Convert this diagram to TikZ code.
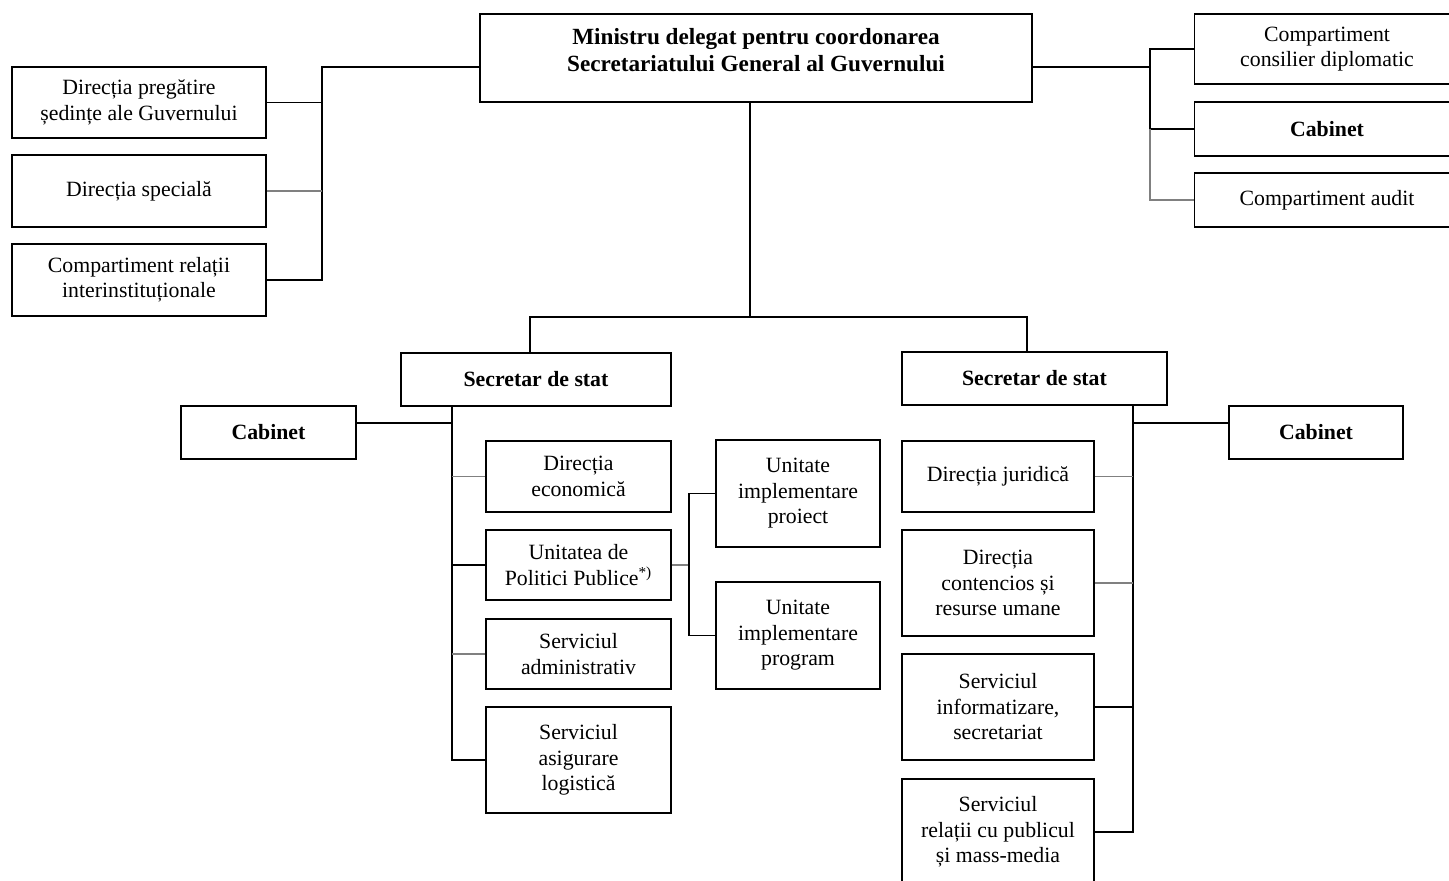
\documentclass[tikz,border=0pt]{standalone}
\usepackage{fontspec}
\setmainfont{Liberation Serif}
\usetikzlibrary{calc}

\begin{document}
\begin{tikzpicture}[
        x=0.02cm, y=-0.02cm,
        unit/.style={draw, line width=1pt, align=center, inner sep=1pt,
            font=\fontsize{12.4}{14.5}\selectfont},
        head/.style={unit, font=\fontsize{12.4}{14.5}\selectfont\bfseries},
        size/.style 2 args={minimum width=#1*0.02cm, minimum height=#2*0.02cm},
        link/.style={line width=1pt},
        faint/.style={line width=0.6pt, gray},
    ]
    \path[use as bounding box, clip] (0,0) rectangle (1449,880);

    % minister
    \node[head, size={552}{88}, text depth=9pt, font=\fontsize{13.2}{15.3}\selectfont\bfseries]
        (min) at (756,58) {Ministru delegat pentru coordonarea\\Secretariatului General al Guvernului};

    % left of minister
    \node[unit, size={254}{71}] (dpg) at (139,102.5) {Direcția pregătire\\ședințe ale Guvernului};
    \node[unit, size={254}{72}] (dsp) at (139,191) {Direcția specială};
    \node[unit, size={254}{72}] (cri) at (139,280) {Compartiment relații\\interinstituționale};

    % right of minister
    \node[unit, size={265}{70}] (ccd) at (1327,49) {Compartiment\\consilier diplomatic};
    \node[head, size={265}{54}] (cabm) at (1327,129) {Cabinet};
    \node[unit, size={265}{54}] (cau) at (1327,200) {Compartiment audit};

    % secretaries of state
    \node[head, size={270}{53}] (ssl) at (536,379.5) {Secretar de stat};
    \node[head, size={265}{53}] (ssr) at (1034.5,378.5) {Secretar de stat};

    % left secretary
    \node[head, size={175}{53}] (cabl) at (268.5,432.5) {Cabinet};
    \node[unit, size={185}{71}] (dec) at (578.5,476.5) {Direcția\\economică};
    \node[unit, size={185}{70}] (upp) at (578.5,565) {Unitatea de\\Politici Publice\textsuperscript{*)}};
    \node[unit, size={185}{70}] (sad) at (578.5,654) {Serviciul\\administrativ};
    \node[unit, size={185}{106}] (sal) at (578.5,760) {Serviciul\\asigurare\\logistică};
    \node[unit, size={164}{107}] (uip) at (798,493.5) {Unitate\\implementare\\proiect};
    \node[unit, size={164}{107}] (uipg) at (798,635.5) {Unitate\\implementare\\program};

    % right secretary
    \node[head, size={174}{53}] (cabr) at (1316,432.5) {Cabinet};
    \node[unit, size={192}{71}] (dju) at (998,476.5) {Direcția juridică};
    \node[unit, size={192}{106}] (dcr) at (998,583) {Direcția\\contencios și\\resurse umane};
    \node[unit, size={192}{106}] (sis) at (998,707) {Serviciul\\informatizare,\\secretariat};
    \node[unit, size={192}{106}] (srp) at (998,832) {Serviciul\\relații cu publicul\\și mass-media};

    % links of the minister
    \coordinate (lbus) at (322,67);
    \coordinate (rbus) at (1150,67);
    \coordinate (split) at (750,317);
    \draw[link] ($(min.west)+(0,9)$) -- (lbus) |- (cri.east);
    \draw[link] (dpg.east) -- (dpg.east -| lbus);
    \draw[faint] (dsp.east) -- (dsp.east -| lbus);
    \draw[link] ($(min.east)+(0,9)$) -- (rbus);
    \draw[link] (ccd.west) -| (cabm.west -| rbus) -- (cabm.west);
    \draw[faint] (cau.west) -| (cabm.west -| rbus);
    \draw[link] (min.south -| split) -- (split);
    \draw[link] (ssl.north -| 530,0) |- (split) -| (ssr.north -| 1027,0);

    % links of the left secretary
    \draw[link] (ssl.south -| 452,0) |- (sal.west);
    \draw[link] (cabl.east |- 0,423) -- (452,423);
    \draw[faint] (dec.west) -- (dec.west -| 452,0);
    \draw[link] (upp.west) -- (upp.west -| 452,0);
    \draw[faint] (sad.west) -- (sad.west -| 452,0);
    \draw[faint] (upp.east) -- (upp.east -| 689,0);
    \draw[link] (uip.west) -| (uipg.west -| 689,0) -- (uipg.west);

    % links of the right secretary
    \draw[link] (ssr.south -| 1133,0) |- (srp.east);
    \draw[link] (cabr.west |- 0,423) -- (1133,423);
    \draw[faint] (dju.east) -- (dju.east -| 1133,0);
    \draw[faint] (dcr.east) -- (dcr.east -| 1133,0);
    \draw[link] (sis.east) -- (sis.east -| 1133,0);
\end{tikzpicture}
\end{document}
